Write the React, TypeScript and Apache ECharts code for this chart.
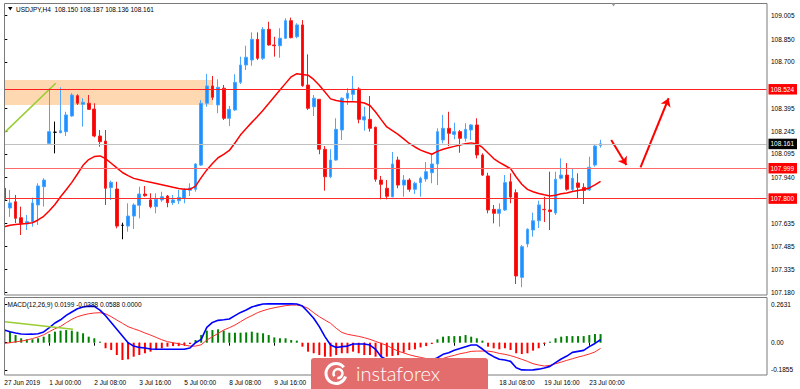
import React, { useEffect, useRef } from 'react';
import * as echarts from 'echarts';

// ---------- categories (H4 bars) ----------
const tradingDays = ['27 Jun', '28 Jun', '1 Jul', '2 Jul', '3 Jul', '4 Jul', '5 Jul', '8 Jul', '9 Jul', '10 Jul', '11 Jul', '12 Jul', '15 Jul', '16 Jul', '17 Jul', '18 Jul', '19 Jul', '22 Jul', '23 Jul'];
const h4Slots = ['00:00', '04:00', '08:00', '12:00', '16:00', '20:00'];
const barTimes = tradingDays.flatMap((d) => h4Slots.map((h) => `${d} ${h}`)).slice(4, 111);
const futureSlots = Array.from({ length: 29 }, (_, k) => `+${k + 1}`);
const categories = [...barTimes, ...futureSlots];

// time-scale ticks every 8 bars; the ones under the watermark carry no visible text
const timeTickLabels: Record<string, string> = {
  '27 Jun 16:00': '27 Jun 2019',
  '1 Jul 00:00': '1 Jul 00:00',
  '2 Jul 08:00': '2 Jul 08:00',
  '3 Jul 16:00': '3 Jul 16:00',
  '5 Jul 00:00': '5 Jul 00:00',
  '8 Jul 08:00': '8 Jul 08:00',
  '9 Jul 16:00': '9 Jul 16:00',
  '11 Jul 00:00': '',
  '12 Jul 08:00': '',
  '15 Jul 16:00': '',
  '17 Jul 00:00': '',
  '18 Jul 08:00': '18 Jul 08:00',
  '19 Jul 16:00': '19 Jul 16:00',
  '23 Jul 00:00': '23 Jul 00:00',
};

// price scale ticks; those covered by the level-price boxes show no text
const priceTickValues = [107.18, 107.335, 107.485, 107.635, 107.79, 107.94, 108.095, 108.245, 108.395, 108.545, 108.7, 108.85, 109.005];
const priceTickHidden = [107.79, 108.545];
const macdTickValues = [0.2631, 0, -0.1855];

// ---------- OHLC ----------
const openP = [
  107.868, 107.738, 107.779, 107.674, 107.633, 107.648, 107.758, 107.878, 108.164, 108.237,
  108.234, 108.241, 108.344, 108.478, 108.421, 108.428, 108.390, 108.212, 108.179, 107.872,
  107.863, 107.624, 107.619, 107.685, 107.756, 107.830, 107.791, 107.747, 107.791, 107.817,
  107.773, 107.786, 107.802, 107.855, 107.861, 108.021, 108.428, 108.542, 108.417, 108.527,
  108.329, 108.384, 108.566, 108.680, 108.713, 108.849, 108.724, 108.915, 108.812, 108.807,
  108.856, 108.972, 108.866, 108.944, 108.548, 108.405, 108.454, 108.125, 107.944, 108.054,
  108.252, 108.461, 108.487, 108.522, 108.318, 108.322, 108.270, 107.922, 107.868, 107.812,
  108.054, 107.889, 107.922, 107.861, 107.905, 107.929, 107.970, 108.028, 108.186, 108.263,
  108.223, 108.241, 108.197, 108.252, 108.285, 108.087, 107.949, 107.729, 107.703, 107.725,
  107.911, 107.839, 107.281, 107.501, 107.593, 107.654, 107.729, 107.725, 107.705, 107.934,
  107.955, 107.860, 107.903, 107.874, 107.857, 108.021, 108.150,
];
const highP = [
  107.883, 107.857, 107.824, 107.747, 107.692, 107.806, 107.901, 107.934, 108.527, 108.307,
  108.533, 108.372, 108.494, 108.487, 108.461, 108.482, 108.428, 108.252, 108.252, 107.918,
  107.911, 107.641, 107.769, 107.769, 107.878, 107.883, 107.835, 107.835, 107.845, 107.824,
  107.824, 107.857, 107.868, 107.901, 108.032, 108.449, 108.621, 108.608, 108.586, 108.548,
  108.410, 108.619, 108.735, 108.807, 108.895, 108.895, 108.930, 108.965, 108.866, 108.922,
  108.988, 108.992, 108.955, 108.976, 108.750, 108.482, 108.456, 108.146, 108.125, 108.329,
  108.467, 108.527, 108.608, 108.533, 108.405, 108.476, 108.274, 107.949, 107.922, 108.107,
  108.076, 107.955, 107.934, 107.911, 107.944, 108.041, 108.094, 108.263, 108.351, 108.372,
  108.300, 108.252, 108.296, 108.291, 108.329, 108.098, 107.970, 107.758, 107.769, 107.955,
  107.966, 107.861, 107.494, 107.604, 107.708, 107.786, 107.812, 107.977, 107.977, 108.065,
  108.034, 107.999, 107.966, 107.901, 108.076, 108.160, 108.187,
];
const lowP = [
  107.771, 107.679, 107.639, 107.560, 107.593, 107.615, 107.626, 107.747, 108.153, 108.098,
  108.230, 108.212, 108.339, 108.417, 108.274, 108.384, 108.204, 108.142, 107.758, 107.791,
  107.604, 107.532, 107.582, 107.600, 107.670, 107.812, 107.736, 107.703, 107.779, 107.743,
  107.758, 107.764, 107.769, 107.817, 107.845, 108.015, 108.405, 108.449, 108.362, 108.318,
  108.278, 108.377, 108.555, 108.647, 108.675, 108.713, 108.713, 108.807, 108.735, 108.728,
  108.851, 108.856, 108.856, 108.537, 108.384, 108.344, 108.092, 107.852, 107.934, 108.050,
  108.186, 108.417, 108.445, 108.296, 108.247, 108.241, 107.911, 107.795, 107.795, 107.808,
  107.868, 107.812, 107.845, 107.830, 107.812, 107.911, 107.901, 107.889, 108.164, 108.146,
  108.191, 108.102, 108.175, 108.186, 108.065, 107.949, 107.703, 107.637, 107.615, 107.718,
  107.769, 107.237, 107.216, 107.479, 107.549, 107.606, 107.646, 107.593, 107.692, 107.926,
  107.852, 107.845, 107.802, 107.764, 107.852, 108.010, 108.136,
];
const closeP = [
  107.791, 107.771, 107.670, 107.637, 107.648, 107.771, 107.883, 107.922, 108.241, 108.237,
  108.247, 108.351, 108.482, 108.428, 108.434, 108.388, 108.212, 108.175, 107.868, 107.907,
  107.619, 107.624, 107.685, 107.758, 107.830, 107.819, 107.747, 107.795, 107.812, 107.773,
  107.791, 107.808, 107.857, 107.870, 108.028, 108.428, 108.542, 108.467, 108.533, 108.329,
  108.388, 108.566, 108.680, 108.731, 108.849, 108.724, 108.915, 108.812, 108.807, 108.856,
  108.972, 108.860, 108.944, 108.544, 108.395, 108.461, 108.125, 107.944, 108.054, 108.256,
  108.461, 108.494, 108.522, 108.322, 108.339, 108.263, 107.927, 107.894, 107.815, 108.028,
  107.889, 107.922, 107.861, 107.901, 107.934, 107.977, 108.028, 108.241, 108.263, 108.230,
  108.241, 108.197, 108.256, 108.285, 108.087, 107.955, 107.725, 107.703, 107.729, 107.905,
  107.810, 107.290, 107.483, 107.598, 107.654, 107.758, 107.727, 107.714, 107.927, 107.955,
  107.861, 107.934, 107.874, 107.853, 108.006, 108.146, 108.161,
];
const dojiBars = [9, 21];

// moving average (red)
const maValues = [
  107.615, 107.624, 107.629, 107.633, 107.636, 107.641, 107.659, 107.683, 107.720, 107.761,
  107.812, 107.858, 107.907, 107.962, 108.019, 108.057, 108.077, 108.081, 108.063, 108.033,
  108.002, 107.972, 107.951, 107.933, 107.924, 107.915, 107.907, 107.899, 107.891, 107.883,
  107.874, 107.867, 107.861, 107.861, 107.882, 107.938, 107.989, 108.031, 108.069, 108.091,
  108.117, 108.166, 108.220, 108.262, 108.302, 108.341, 108.382, 108.426, 108.471, 108.515,
  108.559, 108.602, 108.623, 108.617, 108.613, 108.585, 108.546, 108.502, 108.457, 108.446,
  108.440, 108.438, 108.438, 108.436, 108.430, 108.413, 108.370, 108.320, 108.272, 108.247,
  108.223, 108.193, 108.163, 108.140, 108.119, 108.105, 108.092, 108.111, 108.125, 108.135,
  108.144, 108.153, 108.162, 108.167, 108.160, 108.137, 108.100, 108.064, 108.039, 108.018,
  107.997, 107.942, 107.894, 107.861, 107.845, 107.834, 107.825, 107.817, 107.822, 107.832,
  107.837, 107.847, 107.853, 107.860, 107.870, 107.890, 107.914,
];

// ---------- MACD(12,26,9) ----------
const macdHist = [
  0.086, 0.075, 0.052, 0.030, 0.023, 0.023, 0.030, 0.041, 0.059, 0.075,
  0.082, 0.086, 0.082, 0.075, 0.064, 0.041, 0.030, 0.007, -0.038, -0.050,
  -0.084, -0.118, -0.113, -0.095, -0.084, -0.072, -0.061, -0.050, -0.038, -0.027,
  -0.023, -0.023, -0.016, -0.009, 0.018, 0.052, 0.082, 0.086, 0.091, 0.082,
  0.068, 0.068, 0.068, 0.070, 0.075, 0.068, 0.064, 0.052, 0.036, 0.030,
  0.030, 0.018, 0.014, -0.027, -0.061, -0.072, -0.084, -0.095, -0.095, -0.084,
  -0.072, -0.072, -0.061, -0.072, -0.084, -0.084, -0.095, -0.095, -0.095, -0.090,
  -0.085, -0.068, -0.050, -0.045, -0.032, -0.023, -0.009, 0.023, 0.041, 0.045,
  0.045, 0.045, 0.052, 0.041, 0.030, 0.014, -0.027, -0.038, -0.045, -0.038,
  -0.050, -0.072, -0.077, -0.072, -0.054, -0.038, -0.009, 0.007, 0.030, 0.041,
  0.045, 0.045, 0.045, 0.045, 0.052, 0.059, 0.0588,
];
const macdMain = [
  0.086, 0.075, 0.066, 0.059, 0.057, 0.058, 0.061, 0.073, 0.102, 0.134,
  0.156, 0.186, 0.209, 0.231, 0.243, 0.249, 0.247, 0.222, 0.184, 0.138,
  0.091, 0.045, 0.000, -0.023, -0.032, -0.036, -0.043, -0.045, -0.045, -0.045,
  -0.045, -0.045, -0.045, -0.036, 0.000, 0.023, 0.104, 0.138, 0.152, 0.156,
  0.161, 0.184, 0.206, 0.222, 0.243, 0.254, 0.263, 0.264, 0.264, 0.264,
  0.264, 0.264, 0.263, 0.249, 0.209, 0.166, 0.109, 0.041, -0.016, -0.032,
  -0.027, -0.023, -0.009, -0.009, -0.009, -0.016, -0.045, -0.095, -0.115, -0.128,
  -0.140, -0.140, -0.135, -0.135, -0.132, -0.128, -0.120, -0.102, -0.079, -0.068,
  -0.052, -0.039, -0.027, -0.016, -0.016, -0.043, -0.073, -0.095, -0.113, -0.118,
  -0.127, -0.170, -0.185, -0.186, -0.185, -0.180, -0.172, -0.161, -0.136, -0.111,
  -0.091, -0.066, -0.059, -0.052, -0.027, -0.005, 0.0199,
];
const macdSignal = [
  -0.005, 0.000, 0.006, 0.011, 0.018, 0.028, 0.039, 0.054, 0.075, 0.095,
  0.111, 0.136, 0.159, 0.177, 0.188, 0.197, 0.202, 0.204, 0.197, 0.177,
  0.154, 0.132, 0.109, 0.095, 0.082, 0.066, 0.052, 0.036, 0.020, 0.007,
  0.000, -0.007, -0.016, -0.023, -0.023, -0.014, 0.018, 0.041, 0.063, 0.086,
  0.102, 0.120, 0.143, 0.166, 0.184, 0.204, 0.218, 0.229, 0.238, 0.245,
  0.252, 0.256, 0.256, 0.249, 0.234, 0.204, 0.177, 0.154, 0.132, 0.098,
  0.070, 0.057, 0.050, 0.043, 0.034, 0.023, 0.009, -0.005, -0.018, -0.039,
  -0.057, -0.070, -0.082, -0.092, -0.100, -0.108, -0.115, -0.118, -0.107, -0.095,
  -0.086, -0.075, -0.068, -0.059, -0.057, -0.057, -0.057, -0.063, -0.073, -0.079,
  -0.088, -0.100, -0.113, -0.127, -0.143, -0.152, -0.159, -0.154, -0.143, -0.132,
  -0.120, -0.109, -0.098, -0.088, -0.077, -0.063, -0.0388,
];

// ---------- drawn objects (bar-index / price units) ----------
const levelLines = [
  { price: 108.524, color: '#ff1f1f', label: '108.524', bg: '#ff0000' },
  { price: 107.999, color: '#ff6a6a', label: '107.999', bg: '#ff0000' },
  { price: 107.8, color: '#ff2a2a', label: '107.800', bg: '#ff0000' },
];
const bidPrice = 108.161;
const supplyZone = { x0: 0.04, x1: 37.1, top: 108.581, bottom: 108.4165 };
const priceTrendline = [[0.12, 108.238], [9.14, 108.56]];
const macdTrendline = [[0.1, 0.142], [12.2, 0.091]];
const arrowDown = [[107.9, 108.186], [110.6, 108.021]];
const arrowUp = [[113.1, 108.006], [118.1, 108.461]];

const FONT = 'Liberation Sans, Arial, sans-serif';

export default function App() {
  const ref = useRef<HTMLDivElement>(null);

  useEffect(() => {
    document.body.style.margin = '0';
    const chart = echarts.init(ref.current!, null, { renderer: 'svg' });

    const candleData = openP.map((o, i) => {
      const item: any = { value: [o, closeP[i], lowP[i], highP[i]] };
      if (dojiBars.includes(i)) {
        item.itemStyle = { color: '#000', color0: '#000', borderColor: '#000', borderColor0: '#000' };
      }
      return item;
    });

    const isTick = (idx: number, val: string) => timeTickLabels[val] !== undefined;
    const hasText = (idx: number, val: string) => !!timeTickLabels[val];

    const option: any = {
      animation: false,
      backgroundColor: '#ffffff',
      grid: [
        { left: 1.5, top: 3, width: 765, height: 292, outerBoundsMode: 'none' },
        { left: 1.5, top: 297.3, width: 765, height: 77.7, outerBoundsMode: 'none' },
      ],
      xAxis: [
        { type: 'category', gridIndex: 0, data: categories, boundaryGap: true, show: false },
        {
          type: 'category', gridIndex: 1, data: categories, boundaryGap: true,
          axisLine: { show: false },
          axisTick: { show: true, alignWithLabel: true, interval: isTick, length: 3, lineStyle: { color: '#000' } },
          axisLabel: {
            interval: hasText, formatter: (v: string) => timeTickLabels[v] ?? '',
            align: 'left', margin: 4, fontSize: 6.5, color: '#000', fontFamily: FONT,
          },
          splitLine: { show: false },
        },
        { type: 'value', gridIndex: 0, min: -0.5, max: 135.5, show: false },
        { type: 'value', gridIndex: 1, min: -0.5, max: 135.5, show: false },
      ],
      yAxis: [
        {
          type: 'value', gridIndex: 0, position: 'right', min: 107.1648, max: 109.0885,
          splitLine: { show: false }, axisLine: { show: false },
          axisTick: { show: true, length: 3, lineStyle: { color: '#000' }, customValues: priceTickValues },
          axisLabel: {
            customValues: priceTickValues.filter((v) => !priceTickHidden.includes(v)),
            formatter: (v: number) => v.toFixed(3),
            margin: 4.5, fontSize: 6.5, color: '#000', fontFamily: FONT,
          },
        },
        {
          type: 'value', gridIndex: 1, position: 'right', min: -0.2197, max: 0.3088,
          splitLine: { show: false }, axisLine: { show: false },
          axisTick: { show: true, length: 3, lineStyle: { color: '#000' }, customValues: macdTickValues },
          axisLabel: {
            customValues: macdTickValues,
            formatter: (v: number) => (v === 0 ? '0.00' : v.toFixed(4)),
            margin: 4.5, fontSize: 6.5, color: '#000', fontFamily: FONT,
          },
        },
      ],
      series: [
        {
          name: 'annotations', type: 'line', xAxisIndex: 2, yAxisIndex: 0, z: 1,
          data: priceTrendline, symbol: 'none',
          lineStyle: { color: '#9acd32', width: 1.6 },
          markArea: {
            silent: true,
            itemStyle: { color: '#fed8b1' },
            data: [[{ coord: [supplyZone.x0, supplyZone.top] }, { coord: [supplyZone.x1, supplyZone.bottom] }]],
          },
          markLine: {
            silent: true, symbol: ['none', 'arrow'], symbolSize: 8,
            lineStyle: { color: '#ff0000', width: 2, type: 'solid' },
            label: { show: false },
            data: [
              [{ coord: arrowDown[0] }, { coord: arrowDown[1] }],
              [{ coord: arrowUp[0] }, { coord: arrowUp[1] }],
            ],
          },
        },
        {
          name: 'USDJPY', type: 'candlestick', xAxisIndex: 0, yAxisIndex: 0, z: 3,
          data: candleData, barWidth: 3.2,
          itemStyle: {
            color: '#1e90ff', color0: '#ff0000',
            borderColor: '#4aa6ff', borderColor0: '#f22020', borderWidth: 1,
          },
        },
        {
          name: 'MA', type: 'line', xAxisIndex: 0, yAxisIndex: 0, z: 4,
          data: maValues, symbol: 'none',
          lineStyle: { color: '#ff0000', width: 1.5 },
          markLine: {
            silent: true, symbol: 'none',
            data: [
              ...levelLines.map((l) => ({
                yAxis: l.price,
                lineStyle: { color: l.color, width: 1, type: 'solid' },
                label: {
                  show: true, position: 'end', distance: 2, formatter: l.label,
                  backgroundColor: l.bg, color: '#fff', fontSize: 6.5, fontFamily: FONT,
                  padding: [1.5, 3, 1, 2], lineHeight: 8,
                },
              })),
              {
                yAxis: bidPrice,
                lineStyle: { color: '#c0c0c0', width: 1, type: 'solid' },
                label: {
                  show: true, position: 'end', distance: 2, formatter: bidPrice.toFixed(3),
                  backgroundColor: '#000', color: '#fff', fontSize: 6.5, fontFamily: FONT,
                  padding: [1.5, 3, 1, 2], lineHeight: 8,
                },
              },
            ],
          },
        },
        {
          name: 'MACD hist', type: 'bar', xAxisIndex: 1, yAxisIndex: 1, z: 2,
          data: macdHist, barWidth: 2,
          itemStyle: { color: (p: any) => (p.value >= 0 ? '#008000' : '#ff0000') },
        },
        {
          name: 'MACD signal', type: 'line', xAxisIndex: 1, yAxisIndex: 1, z: 3,
          data: macdSignal, symbol: 'none',
          lineStyle: { color: '#ff2a2a', width: 1 },
        },
        {
          name: 'MACD main', type: 'line', xAxisIndex: 1, yAxisIndex: 1, z: 4,
          data: macdMain, symbol: 'none',
          lineStyle: { color: '#0000ff', width: 1.6 },
        },
        {
          name: 'MACD trend', type: 'line', xAxisIndex: 3, yAxisIndex: 1, z: 5,
          data: macdTrendline, symbol: 'none',
          lineStyle: { color: '#9acd32', width: 1.6 },
        },
      ],
      graphic: [
        { type: 'rect', z: 50, silent: true, shape: { x: 0, y: 0, width: 4, height: 389 }, style: { fill: '#fff' } },
        { type: 'rect', z: 51, silent: true, shape: { x: 4.5, y: 3.5, width: 762.5, height: 291.5 }, style: { fill: 'none', stroke: '#7a7a7a', lineWidth: 1 } },
        { type: 'rect', z: 51, silent: true, shape: { x: 4.5, y: 297.5, width: 762.5, height: 77.5 }, style: { fill: 'none', stroke: '#7a7a7a', lineWidth: 1 } },
        { type: 'polygon', z: 52, silent: true, shape: { points: [[8, 7], [12.5, 7], [10.25, 10.5]] }, style: { fill: '#000' } },
        { type: 'polygon', z: 52, silent: true, shape: { points: [[611.5, 3.5], [615.5, 3.5], [613.5, 6.5]] }, style: { fill: '#9a9a9a' } },
        {
          type: 'text', z: 52, silent: true, x: 16, y: 9,
          style: { text: 'USDJPY,H4  108.150 108.187 108.136 108.161', fill: '#000', font: `6.5px ${FONT}`, verticalAlign: 'middle' },
        },
        {
          type: 'text', z: 52, silent: true, x: 7.5, y: 304,
          style: { text: 'MACD(12,26,9) 0.0199 -0.0388 0.0588 0.0000', fill: '#000', font: `6.5px ${FONT}`, verticalAlign: 'middle' },
        },
        {
          type: 'group', z: 60, silent: true,
          children: [
            { type: 'rect', z: 60, shape: { x: 311, y: 358, width: 177, height: 34, r: [3, 3, 0, 0] }, style: { fill: '#e36d6d' } },
            { type: 'arc', z: 61, shape: { cx: 336, cy: 373.5, r: 10, startAngle: 0.3, endAngle: 5.6 }, style: { stroke: '#fff', lineWidth: 3, fill: 'none' } },
            { type: 'arc', z: 61, shape: { cx: 338, cy: 373.5, r: 4.5, startAngle: 2.5, endAngle: 8.0 }, style: { stroke: '#fff', lineWidth: 2.5, fill: 'none' } },
            {
              type: 'text', z: 61, x: 356, y: 373,
              style: { text: 'instaforex', fill: '#fff', font: '300 20px Lato, sans-serif', verticalAlign: 'middle' },
            },
          ],
        },
      ],
    };

    chart.setOption(option);
    return () => chart.dispose();
  }, []);

  return <div ref={ref} style={{ width: 800, height: 389 }} />;
}
